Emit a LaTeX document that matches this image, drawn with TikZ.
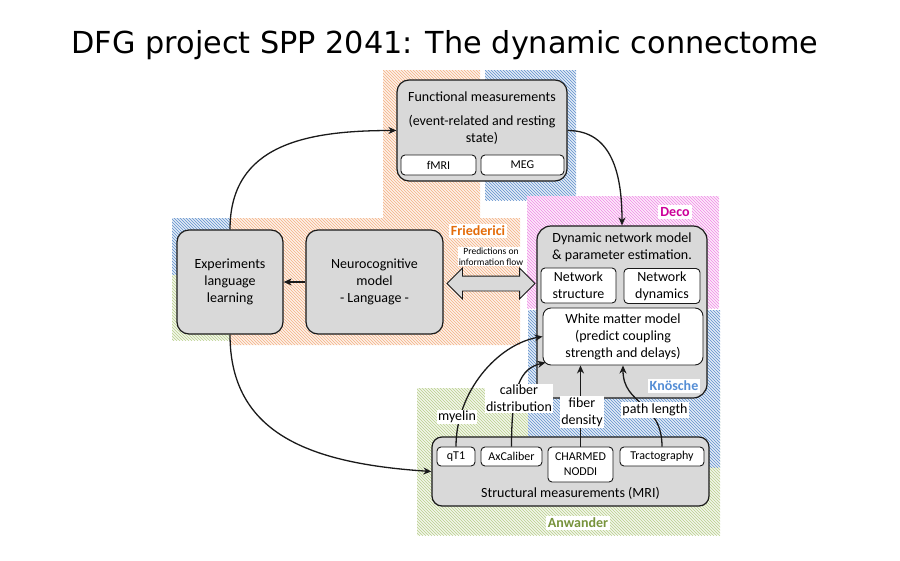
\documentclass[tikz,border=0pt]{standalone}
\usepackage{fontspec}
\setmainfont{Carlito}
\newfontfamily\titlefont{DejaVu Sans}
\usetikzlibrary{arrows.meta,calc,patterns,shapes.arrows}
\definecolor{ink}{HTML}{1A1A1A}
\definecolor{boxgrey}{HTML}{D9D9D9}
\definecolor{hatchor}{HTML}{F4B183}
\definecolor{hatchbl}{HTML}{5F8FCC}
\definecolor{hatchpk}{HTML}{F08AE6}
\definecolor{hatchgr}{HTML}{B9CF8C}
\definecolor{friedc}{HTML}{E46C0A}
\definecolor{decoc}{HTML}{CC0099}
\definecolor{knoec}{HTML}{558ED5}
\definecolor{anwc}{HTML}{77933C}
\newcommand{\txtsize}{\fontsize{14}{17}\selectfont}
\newcommand{\smsize}{\fontsize{12}{15}\selectfont}
\newcommand{\tinysize}{\fontsize{9.5}{11}\selectfont}
\tikzset{
  hatch/.style={draw=none,fill=#1!18,postaction={pattern=north west lines,pattern color=#1}},
  bigbox/.style={draw=ink,line width=1.2pt,fill=boxgrey,rounded corners=12pt,
                 font=\txtsize,align=center,inner sep=0pt},
  subbox/.style={draw=ink,line width=0.9pt,fill=white,rounded corners=4pt,
                 font=\smsize,align=center,inner sep=0pt},
  plain/.style={font=\txtsize,align=center,inner sep=0pt},
  lbl/.style={fill=white,font=\txtsize,align=center,inner sep=1.5pt},
  team/.style={fill=white,font=\txtsize\bfseries,inner sep=2pt},
  link/.style={-{Stealth[length=8pt,width=7pt,inset=2.5pt]},draw=ink,line width=1.3pt},
}

\begin{document}
\begin{tikzpicture}[x=1pt,y=-1pt]
  \useasboundingbox (0,0) rectangle (900,560);

  % hatched group areas
  \fill[hatch=hatchgr] (417,388) rectangle (720,535);
  \fill[hatch=hatchbl] (528,310) rectangle (720,467);
  \fill[hatch=hatchor] (383,70) -- (480,70) -- (480,218) -- (520,218) -- (520,345)
                       -- (230,345) -- (230,218) -- (383,218) -- cycle;
  \fill[hatch=hatchbl] (485,70) rectangle (576,200);
  \fill[hatch=hatchpk] (527,196) rectangle (719,308);
  \fill[hatch=hatchbl] (172,218) rectangle (230,275);
  \fill[hatch=hatchgr] (172,275) rectangle (230,340);

  \node[anchor=base,font=\titlefont\fontsize{30.3}{34}\selectfont] (title) at (445,53)
       {DFG project SPP 2041: The dynamic connectome};

  % functional measurements
  \node[bigbox,minimum width=170pt,minimum height=101pt] (func) at (482,130.5) {};
  \node[plain] (functitle) at (482,97) {Functional measurements};
  \node[plain] (funcsub) at (482,129.5) {(event-related and resting\\state)};
  \node[subbox,minimum width=75pt,minimum height=20pt] (fmri) at (438.5,165) {fMRI};
  \node[subbox,minimum width=83pt,minimum height=20pt] (meg) at (522.5,165) {MEG};

  % language side
  \node[bigbox,minimum width=106pt,minimum height=104pt] (exp) at (230,282)
       {Experiments\\language\\learning};
  \node[bigbox,minimum width=137pt,minimum height=104pt] (neuro) at (374.5,282)
       {Neurocognitive\\model\\- Language -};
  \node[double arrow,draw=ink,line width=0.9pt,fill=boxgrey,inner sep=7pt,
        minimum height=88pt,double arrow head extend=8pt] (predarrow) at (491,283.5) {};
  \node[fill=white,font=\tinysize,align=center,inner sep=1pt] (predlbl) at (491,256.5)
       {Predictions on\\information flow};

  % dynamic network model
  \node[bigbox,minimum width=170pt,minimum height=172pt,rounded corners=14pt] (dyn) at (622,312) {};
  \node[plain] (dyntitle) at (622,247.5) {Dynamic network model\\\& parameter estimation.};
  \node[subbox,font=\txtsize,minimum width=75pt,minimum height=35pt] (netstruct) at (578.5,285.5)
       {Network\\structure};
  \node[subbox,font=\txtsize,minimum width=76pt,minimum height=35pt] (netdyn) at (662,286)
       {Network\\dynamics};
  \node[subbox,font=\txtsize,minimum width=160pt,minimum height=57pt,rounded corners=8pt] (wm)
       at (623,336.5) {White matter model\\(predict coupling\\strength and delays)};

  % structural measurements
  \node[bigbox,minimum width=277pt,minimum height=69pt,rounded corners=10pt] (struct) at (570.5,471.5) {};
  \node[plain] (structtxt) at (570.5,493) {Structural measurements (MRI)};
  \node[subbox,minimum width=38pt,minimum height=19pt] (qt1) at (456,456.5) {qT1};
  \node[subbox,minimum width=61pt,minimum height=19pt] (axcal) at (511.5,456.5) {AxCaliber};
  \node[subbox,minimum width=65pt,minimum height=35pt] (charmed) at (580.5,464.5) {CHARMED\\NODDI};
  \node[subbox,minimum width=84pt,minimum height=19pt] (tract) at (662,456.5) {Tractography};

  % connectors
  \draw[link] (exp.north) .. controls +(0,-85) and +(-90,0) .. (func.west);
  \draw[link] (func.east) .. controls +(45,0) and +(0,-50) .. (dyn.north);
  \draw[link] (neuro.west) -- (exp.east);
  \draw[link] (exp.south) .. controls +(0,100) and +(-120,-8) .. (struct.west);
  \draw[link] (qt1.north) .. controls +(0,-55) and +(-45,8) .. (wm.west);
  \draw[link] (axcal.north) .. controls +(0,-60) and +(-25,6) .. ($(wm.south west)+(3,-3)$);
  \draw[link] (charmed.north) -- (charmed.north |- wm.south);
  \draw[link] (tract.north) .. controls +(0,-45) and +(0,40) .. (wm.south);

  \node[lbl] (myelin) at (457,417) {myelin};
  \node[lbl] (caliber) at (519,398.5) {caliber\\distribution};
  \node[lbl] (fiber) at (582,412) {fiber\\density};
  \node[lbl] (path) at (655,410) {path length};

  % group names
  \node[team,text=decoc] (deco) at (675,212) {Deco};
  \node[team,text=friedc] (fried) at (478,231) {Friederici};
  \node[team,text=knoec] (knoe) at (674,386) {Knösche};
  \node[team,text=anwc] (anw) at (578,523) {Anwander};
\end{tikzpicture}
\end{document}
